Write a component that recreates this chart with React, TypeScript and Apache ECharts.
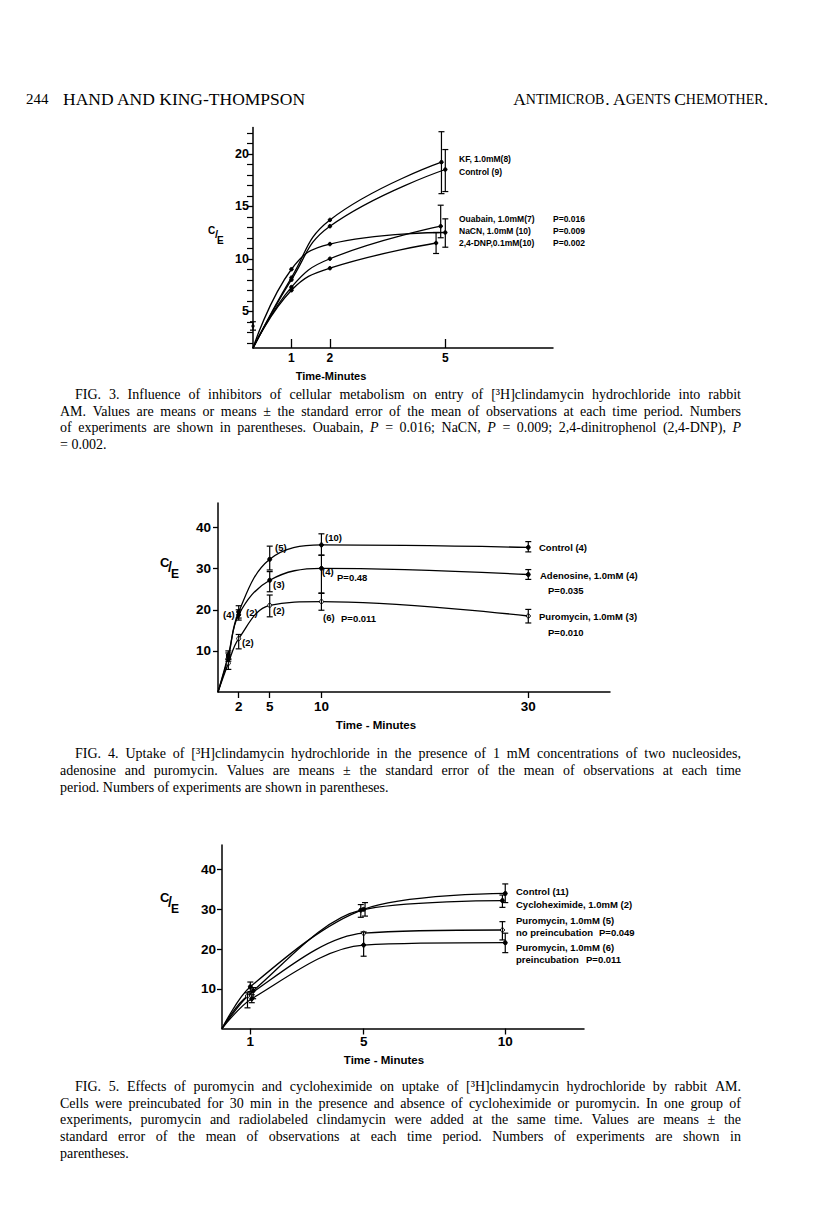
import React, { useEffect, useRef } from "react";
import * as echarts from "echarts";

// ---------- Fig. 3 data ----------
const f3XTicks = [1, 2, 5];
const f3YLabels = [5, 10, 15, 20];
const f3YMinor = [2, 3, 4, 6, 7, 8, 9, 11, 12, 13, 14, 16, 17, 18, 19, 21, 22];
const f3KF = [[0, 1.5], [1, 8.2], [2, 13.7], [4.9, 19.2]];
const f3Control = [[0, 1.5], [1, 8.0], [2, 13.1], [5, 18.5]];
const f3Ouabain = [[0, 1.5], [1, 7.3], [2, 10.0], [4.88, 13.1]];
const f3NaCN = [[0, 1.5], [1, 9.0], [2, 11.4], [5, 12.5]];
const f3DNP = [[0, 1.5], [1, 7.0], [2, 9.1], [4.76, 11.5]];
const f3Start = [[0, 3.6]];
const f3Err = [[4.9, 16.2, 22.1], [5, 16.4, 20.4], [4.88, 12.0, 15.1], [5, 11.1, 13.8], [4.76, 10.5, 12.5], [0, 3.2, 4.0]];

// ---------- Fig. 4 data ----------
const f4XTicks = [2, 5, 10, 30];
const f4YTicks = [10, 20, 30, 40];
const f4Control = [[0, 0], [1, 9.0], [2, 19.5], [5, 32.3], [10, 35.8], [30, 35.2]];
const f4Adenosine = [[0, 0], [1, 8.5], [2, 18.8], [5, 27.2], [10, 30.1], [30, 28.6]];
const f4Puromycin = [[0, 0], [1, 7.0], [2, 13.0], [5, 21.1], [10, 22.0], [30, 18.5]];
const f4Err = [
  [1, 8.0, 10.0], [2, 18.0, 21.0], [5, 29.7, 35.5], [10, 33.3, 38.5], [30, 34.1, 36.6],
  [1, 7.5, 9.5], [2, 17.5, 20.0], [5, 24.4, 29.3], [10, 24.0, 33.3], [30, 27.4, 29.8],
  [1, 5.5, 8.0], [2, 10.5, 14.0], [5, 18.3, 23.6], [10, 19.9, 24.1], [30, 16.8, 20.1],
];

// ---------- Fig. 5 data ----------
const f5XTicks = [1, 5, 10];
const f5YTicks = [10, 20, 30, 40];
const f5Control = [[0, 0], [1, 10.5], [5, 30.0], [10, 34.0]];
const f5Cyclo = [[0, 0], [1.1, 9.5], [4.9, 29.8], [9.9, 32.2]];
const f5PuroNo = [[0, 0], [0.9, 8.2], [5, 24.0], [9.9, 24.8]];
const f5PuroPre = [[0, 0], [1.05, 7.5], [5, 21.0], [10, 21.6]];
const f5Err = [
  [1, 9.3, 11.7], [1.1, 7.5, 10.3], [0.9, 5.2, 9.0], [1.05, 6.5, 8.5],
  [5.05, 28.3, 31.7], [4.9, 28.0, 31.2], [5, 18.2, 24.3],
  [10, 31.7, 36.4], [9.9, 30.5, 33.6], [9.9, 22.3, 26.9], [10, 19.1, 24.0],
];

const SANS = '"Liberation Sans", Arial, sans-serif';
const SERIF = '"Liberation Serif", "Times New Roman", serif';
const CAP_SIZE = 14;
const CAP_RIGHT = 741;

let measureCtx: CanvasRenderingContext2D | null = null;
const measure = (t: string, font: string) => {
  if (!measureCtx) measureCtx = document.createElement("canvas").getContext("2d");
  if (!measureCtx) return t.length * 6;
  measureCtx.font = font;
  return measureCtx.measureText(t).width;
};

const lineSeries = (data: number[][], idx: number, open = false, size = 4, smooth = 0.38) => ({
  type: "line",
  xAxisIndex: idx,
  yAxisIndex: idx,
  data,
  smooth,
  symbol: "circle",
  symbolSize: (v: number[]) => (v[0] === 0 ? 0 : size),
  itemStyle: { color: open ? "#fff" : "#000", borderColor: "#000", borderWidth: 1 },
  lineStyle: { color: "#000", width: 1.3 },
  z: 3,
});

const errSeries = (data: number[][], idx: number) => ({
  type: "custom",
  xAxisIndex: idx,
  yAxisIndex: idx,
  data,
  encode: { x: 0, y: [1, 2] },
  z: 4,
  renderItem: (_p: any, api: any) => {
    const x = api.value(0);
    const a = api.coord([x, api.value(1)]);
    const b = api.coord([x, api.value(2)]);
    const w = 3;
    const st = { stroke: "#000", lineWidth: 1.2 };
    return {
      type: "group",
      children: [
        { type: "line", shape: { x1: a[0], y1: a[1], x2: b[0], y2: b[1] }, style: st },
        { type: "line", shape: { x1: a[0] - w, y1: a[1], x2: a[0] + w, y2: a[1] }, style: st },
        { type: "line", shape: { x1: b[0] - w, y1: b[1], x2: b[0] + w, y2: b[1] }, style: st },
      ],
    };
  },
});

const txt = (text: string, x: number, y: number, size: number, opts: any = {}) => ({
  type: "text",
  x,
  y,
  style: {
    text,
    fill: "#000",
    font: `${opts.weight || "bold"} ${size}px ${opts.family || SANS}`,
    textAlign: opts.align || "left",
    textVerticalAlign: "middle",
  },
});

// caption line, justified word by word between x and CAP_RIGHT
const capLine = (text: string, x: number, y: number, justify = true) => {
  const normal = `${CAP_SIZE}px ${SERIF}`;
  const italic = `italic ${CAP_SIZE}px ${SERIF}`;
  const words = text.split(" ").map((w) => {
    const m = w.match(/^\{i\|(.*)\}$/);
    const t = m ? m[1] : w;
    const font = m ? italic : normal;
    return { t, font, w: measure(t, font) };
  });
  const total = words.reduce((s, w) => s + w.w, 0);
  const gap = justify && words.length > 1 ? (CAP_RIGHT - x - total) / (words.length - 1) : measure(" ", normal);
  let cx = x;
  const children = words.map((w) => {
    const el = {
      type: "text",
      x: cx,
      y,
      style: { text: w.t, font: w.font, fill: "#000", textVerticalAlign: "middle" },
    };
    cx += w.w + gap;
    return el;
  });
  return { type: "group", children };
};

const axisCommon = (ticks: number[], inside: boolean, tickLen: number, size: number, margin: number) => ({
  axisLine: { onZero: false, lineStyle: { color: "#000", width: 1.5 } },
  axisTick: { inside, length: tickLen, customValues: ticks, lineStyle: { color: "#000", width: 1.3 } },
  axisLabel: { customValues: ticks, margin, color: "#000", fontSize: size, fontFamily: SANS, fontWeight: "bold" },
  splitLine: { show: false },
});

export default function App() {
  const ref = useRef<HTMLDivElement>(null);
  useEffect(() => {
    if (!ref.current) return;
    const chart = echarts.init(ref.current, undefined, { renderer: "svg" });
    const option: any = {
      animation: false,
      backgroundColor: "#fff",
      grid: [
        { left: 253, top: 127.5, width: 300, height: 220.5 },
        { left: 218, top: 503, width: 392, height: 189 },
        { left: 222, top: 845, width: 362, height: 183.5 },
      ],
      xAxis: [
        { type: "value", gridIndex: 0, min: 0, max: 7.8, ...axisCommon(f3XTicks, true, 9, 12, 4) },
        { type: "value", gridIndex: 1, min: 0, max: 37.9, ...axisCommon(f4XTicks, false, 6, 13.5, 7) },
        { type: "value", gridIndex: 2, min: 0, max: 12.78, ...axisCommon(f5XTicks, false, 6, 13.5, 6) },
      ],
      yAxis: [
        { type: "value", gridIndex: 0, min: 1.5, max: 22.5, ...axisCommon(f3YLabels, false, 5, 12.5, 4) },
        { type: "value", gridIndex: 1, min: 0, max: 46, ...axisCommon(f4YTicks, false, 5, 13.5, 7) },
        { type: "value", gridIndex: 2, min: 0, max: 46.2, ...axisCommon(f5YTicks, false, 5, 13.5, 6) },
        {
          type: "value", gridIndex: 0, min: 1.5, max: 22.5,
          axisLine: { show: false },
          axisTick: { inside: true, length: 6, customValues: f3YMinor, lineStyle: { color: "#000", width: 1.2 } },
          axisLabel: { show: false },
          splitLine: { show: false },
        },
      ],
      series: [
        lineSeries(f3KF, 0, false, 3.5, 0.45),
        lineSeries(f3Control, 0, false, 3.5, 0.45),
        lineSeries(f3Ouabain, 0, false, 3.5, 0.45),
        lineSeries(f3NaCN, 0, false, 3.5, 0.45),
        lineSeries(f3DNP, 0, false, 3.5, 0.45),
        {
          type: "scatter", xAxisIndex: 0, yAxisIndex: 0, data: f3Start,
          symbolSize: 3.5, itemStyle: { color: "#000" }, z: 4,
        },
        errSeries(f3Err, 0),
        lineSeries(f4Control, 1),
        lineSeries(f4Adenosine, 1),
        lineSeries(f4Puromycin, 1, true),
        errSeries(f4Err, 1),
        lineSeries(f5Control, 2, false, 4, 0.32),
        lineSeries(f5Cyclo, 2, false, 4, 0.32),
        lineSeries(f5PuroNo, 2, true, 4, 0.32),
        lineSeries(f5PuroPre, 2, false, 4, 0.32),
        errSeries(f5Err, 2),
      ],
      graphic: [
        // header
        txt("244", 26, 99, 15, { family: SERIF, weight: "normal" }),
        txt("HAND AND KING-THOMPSON", 63, 99, 17.5, { family: SERIF, weight: "normal" }),
        {
          type: "text", x: 768, y: 99,
          style: {
            text: "{b|A}{s|NTIMICROB}{b|. A}{s|GENTS} {b|C}{s|HEMOTHER}{b|.}",
            fill: "#000", textAlign: "right", textVerticalAlign: "middle",
            rich: {
              b: { fontFamily: SERIF, fontSize: 17.5 },
              s: { fontFamily: SERIF, fontSize: 14 },
            },
          },
        },
        // Fig 3 texts
        txt("C", 208, 230, 10),
        txt("/", 215, 234, 11),
        txt("E", 217, 240, 10),
        txt("KF, 1.0mM(8)", 459, 159, 8.5),
        txt("Control (9)", 459, 172, 8.5),
        txt("Ouabain, 1.0mM(7)", 459, 219, 8.5),
        txt("P=0.016", 553, 219, 8.5),
        txt("NaCN, 1.0mM (10)", 459, 231, 8.5),
        txt("P=0.009", 553, 231, 8.5),
        txt("2,4-DNP,0.1mM(10)", 459, 243, 8.5),
        txt("P=0.002", 553, 243, 8.5),
        txt("Time-Minutes", 331, 376, 11, { align: "center" }),
        capLine("FIG. 3. Influence of inhibitors of cellular metabolism on entry of [³H]clindamycin hydrochloride into rabbit", 75, 394),
        capLine("AM. Values are means or means ± the standard error of the mean of observations at each time period. Numbers", 60, 411),
        capLine("of experiments are shown in parentheses. Ouabain, {i|P} = 0.016; NaCN, {i|P} = 0.009; 2,4-dinitrophenol (2,4-DNP), {i|P}", 60, 427),
        capLine("= 0.002.", 60, 444, false),
        // Fig 4 texts
        txt("C", 160, 562, 13),
        txt("/", 168, 567, 14),
        txt("E", 171, 574, 12),
        txt("(5)", 275, 547, 9.5),
        txt("(10)", 325, 537, 9.5),
        txt("(3)", 273, 584, 9.5),
        txt("(4)", 322, 571, 9.5),
        txt("P=0.48", 337, 577, 9.5),
        txt("(2)", 273, 610, 9.5),
        txt("(6)", 323, 617, 9.5),
        txt("P=0.011", 341, 618, 9.5),
        txt("(4)", 223, 614, 9.5),
        txt("(2)", 246, 612, 9.5),
        txt("(2)", 242, 642, 9.5),
        txt("Control (4)", 539, 547, 9.5),
        txt("Adenosine, 1.0mM (4)", 540, 575, 9.5),
        txt("P=0.035", 548, 590, 9.5),
        txt("Puromycin, 1.0mM (3)", 539, 616, 9.5),
        txt("P=0.010", 548, 632, 9.5),
        txt("Time - Minutes", 376, 725, 11.5, { align: "center" }),
        capLine("FIG. 4. Uptake of [³H]clindamycin hydrochloride in the presence of 1 mM concentrations of two nucleosides,", 75, 753),
        capLine("adenosine and puromycin. Values are means ± the standard error of the mean of observations at each time", 60, 770),
        capLine("period. Numbers of experiments are shown in parentheses.", 60, 787, false),
        // Fig 5 texts
        txt("C", 160, 897, 13),
        txt("/", 168, 902, 14),
        txt("E", 171, 909, 12),
        txt("Control (11)", 516, 891, 9.5),
        txt("Cycloheximide, 1.0mM (2)", 516, 904, 9.5),
        txt("Puromycin, 1.0mM (5)", 516, 920, 9.5),
        txt("no preincubation", 516, 932, 9.5),
        txt("P=0.049", 599, 932, 9.5),
        txt("Puromycin, 1.0mM (6)", 516, 947, 9.5),
        txt("preincubation", 516, 959, 9.5),
        txt("P=0.011", 586, 959, 9.5),
        txt("Time - Minutes", 384, 1060, 11.5, { align: "center" }),
        capLine("FIG. 5. Effects of puromycin and cycloheximide on uptake of [³H]clindamycin hydrochloride by rabbit AM.", 75, 1086),
        capLine("Cells were preincubated for 30 min in the presence and absence of cycloheximide or puromycin. In one group of", 60, 1103),
        capLine("experiments, puromycin and radiolabeled clindamycin were added at the same time. Values are means ± the", 60, 1119),
        capLine("standard error of the mean of observations at each time period. Numbers of experiments are shown in", 60, 1136),
        capLine("parentheses.", 60, 1153, false),
      ],
    };
    chart.setOption(option);
    return () => chart.dispose();
  }, []);
  return (
    <div
      ref={ref}
      style={{ position: "absolute", left: 0, top: 0, width: 816, height: 1213, background: "#fff" }}
    />
  );
}
